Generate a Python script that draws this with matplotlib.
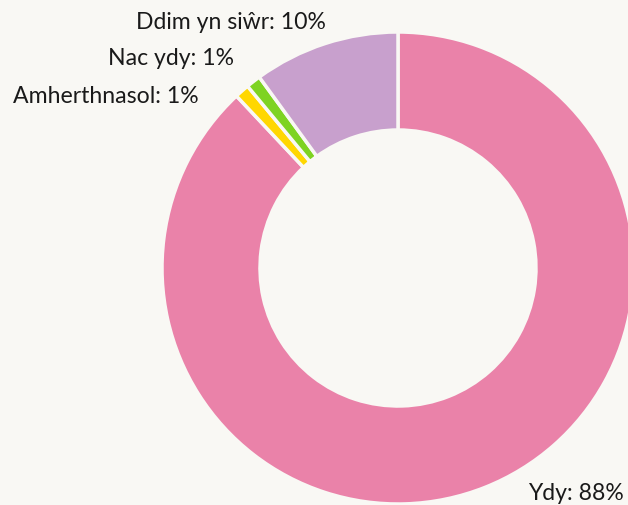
import matplotlib
matplotlib.use("Agg")
import matplotlib.pyplot as plt
import numpy as np

labels = ["Ydy", "Amherthnasol", "Nac ydy", "Ddim yn siŵr"]
values = [88, 1, 1, 10]
colors = ["#ea82a9", "#ffd700", "#7ed321", "#c8a0cd"]

bg = "#f9f8f4"

fig = plt.figure(figsize=(6.28, 5.06), dpi=100, facecolor=bg)
ax = fig.add_axes([0, 0, 1, 1])
ax.set_facecolor(bg)

cx, cy = 398, 506 - 269
R = 236
wedges, _ = ax.pie(values, colors=colors, startangle=90, counterclock=False,
                   center=(cx, cy), radius=R, frame=True,
                   wedgeprops=dict(width=98, edgecolor=bg, linewidth=2.5))
ax.set_xlim(0, 628)
ax.set_ylim(0, 506)
ax.set_aspect("equal")
ax.axis("off")

# label positions (pixels from top-left), right/left anchored
label_pos = [(528, 494, "left"), (199, 96, "right"), (234, 58, "right"), (326, 22, "right")]
for lab, v, (x, y, ha) in zip(labels, values, label_pos):
    ax.text(x, 506 - y, f"{lab}: {v}%", ha=ha, va="center", fontsize=16.6,
            family="Lato", color="#1a1a1a")

fig.savefig("out.png", dpi=100, facecolor=bg)
